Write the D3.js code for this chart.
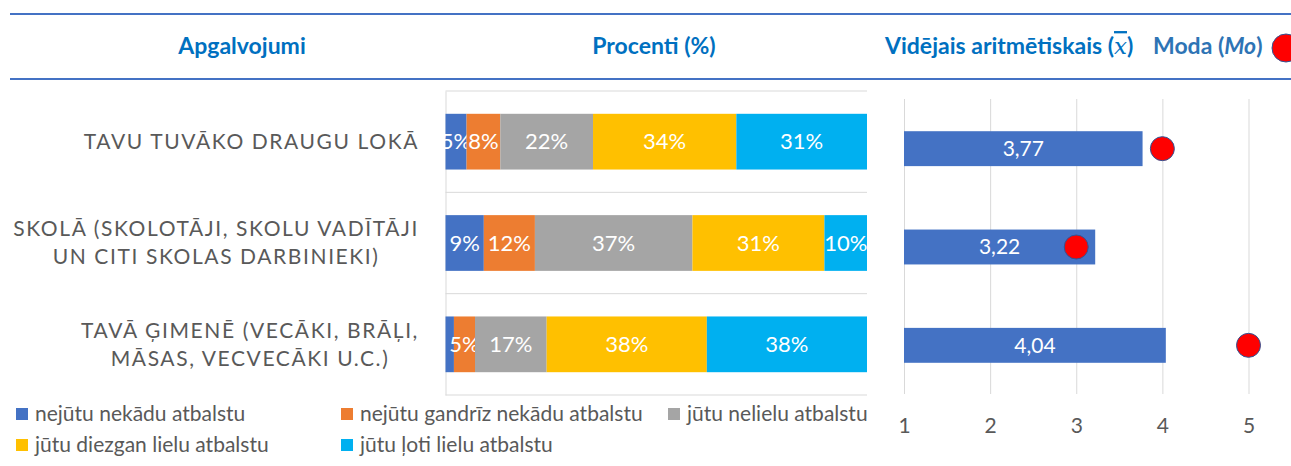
<!DOCTYPE html>
<html>
<head>
<meta charset="utf-8">
<script src="https://cdn.jsdelivr.net/npm/d3@7"></script>
<style>
  body { margin: 0; background: #fff; }
  text { font-family: Lato, "Open Sans", sans-serif; }
</style>
</head>
<body>
<div id="chart"></div>
<script>
const categoryLines = [
  ["TAVU TUVĀKO DRAUGU LOKĀ"],
  ["SKOLĀ (SKOLOTĀJI, SKOLU VADĪTĀJI", "UN CITI SKOLAS DARBINIEKI)"],
  ["TAVĀ ĢIMENĒ (VECĀKI, BRĀĻI,", "MĀSAS, VECVECĀKI U.C.)"]
];
const categories = categoryLines.map(d => d.join(" "));

const seriesNames = [
  "nejūtu nekādu atbalstu",
  "nejūtu gandrīz nekādu atbalstu",
  "jūtu nelielu atbalstu",
  "jūtu diezgan lielu atbalstu",
  "jūtu ļoti lielu atbalstu"
];
const seriesColors = ["#4472C4", "#ED7D31", "#A5A5A5", "#FFC000", "#00B0F0"];

// percent per category (same order as categories)
const nejutuNekadu = [5, 9, 2];
const nejutuGandriz = [8, 12, 5];
const jutuNelielu = [22, 37, 17];
const jutuDiezgan = [34, 31, 38];
const jutuLoti = [31, 10, 38];

const means = [3.77, 3.22, 4.04];
const modes = [4, 3, 5];
const meanTicks = [1, 2, 3, 4, 5];

const width = 1291;
const height = 466;

const svg = d3.select("#chart")
  .append("svg")
  .attr("width", width)
  .attr("height", height);

const allSeries = [nejutuNekadu, nejutuGandriz, jutuNelielu, jutuDiezgan, jutuLoti];
const rows = categories.map(function(c, i) {
  const row = { cat: c };
  seriesNames.forEach(function(s, j) { row[s] = allSeries[j][i]; });
  return row;
});

const stacked = d3.stack()
  .keys(seriesNames)
  .offset(d3.stackOffsetExpand)(rows);

// Header lines
[14, 79].forEach(function(y) {
  svg.append("line")
    .attr("x1", 10)
    .attr("x2", width)
    .attr("y1", y)
    .attr("y2", y)
    .attr("stroke", "#4472C4")
    .attr("stroke-width", 2);
});

// Headers
svg.append("text")
  .attr("x", 242)
  .attr("y", 46)
  .attr("dy", "0.35em")
  .attr("text-anchor", "middle")
  .style("font-size", "23px")
  .style("font-weight", "bold")
  .style("fill", "#0070C0")
  .text("Apgalvojumi");

svg.append("text")
  .attr("x", 654)
  .attr("y", 46)
  .attr("dy", "0.35em")
  .attr("text-anchor", "middle")
  .style("font-size", "23px")
  .style("font-weight", "bold")
  .style("fill", "#0070C0")
  .text("Procenti (%)");

const meanHead = svg.append("text")
  .attr("x", 885)
  .attr("y", 46)
  .attr("dy", "0.35em")
  .style("font-size", "23px")
  .style("font-weight", "bold")
  .style("fill", "#0070C0");
meanHead.append("tspan").text("Vidējais aritmētiskais (");
meanHead.append("tspan")
  .style("font-family", "'DejaVu Serif', serif")
  .style("font-style", "italic")
  .style("font-weight", "normal")
  .style("text-decoration", "overline")
  .text("x");
meanHead.append("tspan").text(")");

const modeHead = svg.append("text")
  .attr("x", 1153)
  .attr("y", 46)
  .attr("dy", "0.35em")
  .style("font-size", "23px")
  .style("font-weight", "bold")
  .style("fill", "#2E74B5");
modeHead.append("tspan").text("Moda (");
modeHead.append("tspan").style("font-style", "italic").text("Mo");
modeHead.append("tspan").text(")");

svg.append("circle")
  .attr("cx", 1286)
  .attr("cy", 48)
  .attr("r", 14)
  .attr("fill", "#FF0000")
  .attr("stroke", "#2F5597")
  .attr("stroke-width", 1);

// Stacked bar chart
const xPct = d3.scaleLinear()
  .domain([0, 1])
  .range([445.5, 867]);

const yCat = d3.scaleBand()
  .domain(categories)
  .range([91, 395])
  .paddingInner(0.45)
  .paddingOuter(0.225);

// category separators
d3.range(categories.length + 1).forEach(function(i) {
  const y = 91 + i * yCat.step();
  svg.append("line")
    .attr("x1", xPct(0))
    .attr("x2", xPct(1))
    .attr("y1", y)
    .attr("y2", y)
    .attr("stroke", "#D9D9D9")
    .attr("stroke-width", 1);
});

svg.append("g")
  .attr("transform", `translate(${xPct(0)}, 0)`)
  .call(d3.axisLeft(yCat).tickSize(0).tickFormat(""))
  .call(g => g.select(".domain").attr("stroke", "#D9D9D9"));

const layers = svg.selectAll(".layer")
  .data(stacked)
  .enter()
  .append("g")
  .attr("fill", (d, i) => seriesColors[i]);

layers.selectAll("rect")
  .data(d => d)
  .enter()
  .append("rect")
  .attr("x", d => xPct(d[0]))
  .attr("y", d => yCat(d.data.cat))
  .attr("width", d => xPct(d[1]) - xPct(d[0]))
  .attr("height", yCat.bandwidth());

layers.each(function(layer) {
  d3.select(this).selectAll("text")
    .data(layer.filter(d => d.data[layer.key] >= 3))
    .enter()
    .append("text")
    .attr("x", d => (xPct(d[0]) + xPct(d[1])) / 2)
    .attr("y", d => yCat(d.data.cat) + yCat.bandwidth() / 2)
    .attr("dy", "0.35em")
    .attr("text-anchor", "middle")
    .style("font-size", "22px")
    .style("fill", "#fff")
    .text(d => d.data[layer.key] + "%");
});

// Category labels
categoryLines.forEach(function(lines, i) {
  const cy = yCat(categories[i]) + yCat.bandwidth() / 2;
  const g = svg.append("text")
    .attr("text-anchor", "middle")
    .style("font-size", "21px")
    .style("letter-spacing", "1.6px")
    .style("fill", "#595959");
  const spans = lines.map(function(line, k) {
    return g.append("tspan")
      .attr("y", cy + (k - (lines.length - 1) / 2) * 28)
      .attr("dy", "0.35em")
      .text(line);
  });
  const w = d3.max(spans, s => s.node().getComputedTextLength());
  spans.forEach(s => s.attr("x", 419 - w / 2));
});

// Mean / mode chart
const xMean = d3.scaleLinear()
  .domain([1, 5])
  .range([904, 1248.5]);

const yMean = d3.scaleBand()
  .domain(categories)
  .range([99.5, 394.5])
  .paddingInner(0.645)
  .paddingOuter(0.3225);

svg.append("g")
  .attr("transform", "translate(0, 394)")
  .call(d3.axisBottom(xMean)
    .tickValues(meanTicks)
    .tickSize(-(394 - 99))
    .tickPadding(24)
    .tickFormat(d3.format("d")))
  .call(g => g.select(".domain").remove())
  .call(g => g.selectAll(".tick line").attr("stroke", "#D9D9D9"))
  .call(g => g.selectAll(".tick text")
    .style("font-family", "Lato, sans-serif")
    .style("font-size", "21px")
    .attr("fill", "#595959"));

svg.selectAll(".mean-bar")
  .data(means)
  .enter()
  .append("rect")
  .attr("x", xMean(1))
  .attr("y", (d, i) => yMean(categories[i]))
  .attr("width", d => xMean(d) - xMean(1))
  .attr("height", yMean.bandwidth())
  .attr("fill", "#4472C4");

svg.selectAll(".mean-label")
  .data(means)
  .enter()
  .append("text")
  .attr("x", d => (xMean(1) + xMean(d)) / 2)
  .attr("y", (d, i) => yMean(categories[i]) + yMean.bandwidth() / 2)
  .attr("dy", "0.35em")
  .attr("text-anchor", "middle")
  .style("font-size", "21px")
  .style("fill", "#fff")
  .text(d => d.toFixed(2).replace(".", ","));

svg.selectAll(".mode-dot")
  .data(modes)
  .enter()
  .append("circle")
  .attr("cx", d => xMean(d))
  .attr("cy", (d, i) => yMean(categories[i]) + yMean.bandwidth() / 2)
  .attr("r", 12)
  .attr("fill", "#FF0000")
  .attr("stroke", "#2F5597")
  .attr("stroke-width", 1);

// Legend
const legendPos = [[16, 414], [341, 414], [668, 414], [16, 445], [341, 445]];
seriesNames.forEach(function(name, i) {
  const p = legendPos[i];
  svg.append("rect")
    .attr("x", p[0])
    .attr("y", p[1] - 6)
    .attr("width", 12)
    .attr("height", 12)
    .attr("fill", seriesColors[i]);
  svg.append("text")
    .attr("x", p[0] + 19)
    .attr("y", p[1])
    .attr("dy", "0.35em")
    .style("font-size", "21px")
    .style("fill", "#595959")
    .text(name);
});
</script>
</body>
</html>
